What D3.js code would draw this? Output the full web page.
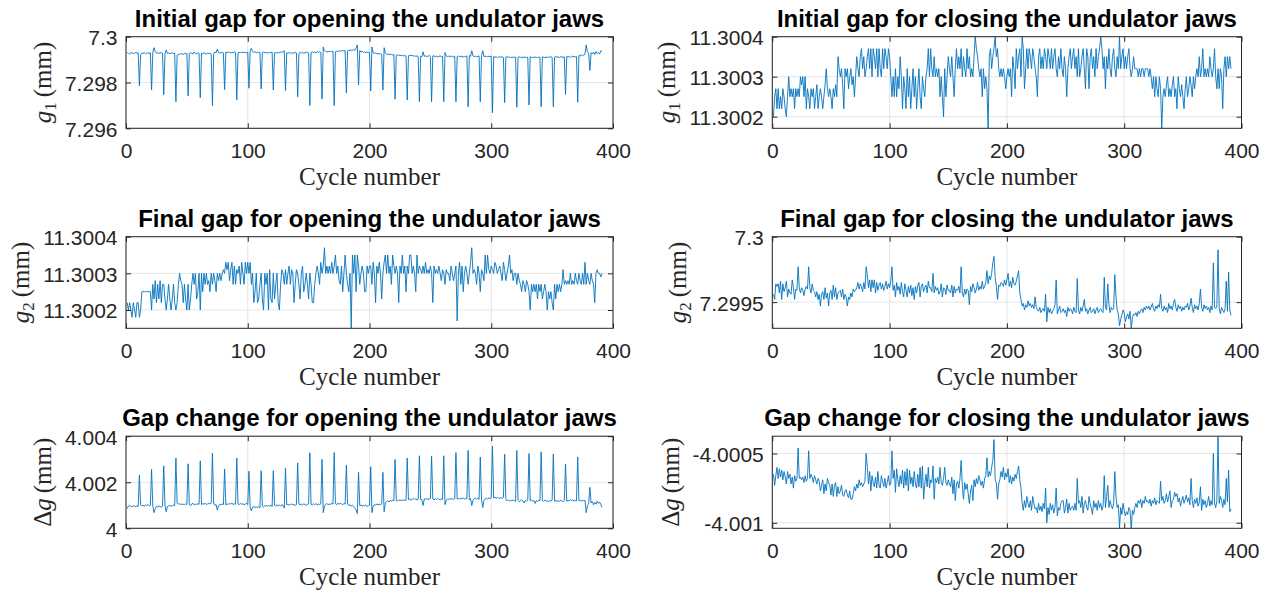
<!DOCTYPE html>
<html>
<head>
<meta charset="utf-8">
<script src="https://cdn.jsdelivr.net/npm/d3@7"></script>
<style>
  html, body { margin: 0; padding: 0; background: #fff; }
  svg { display: block; }
</style>
</head>
<body>
<script>
// Undulator jaw gap measurements per cycle (cycle 1 .. 391).
// Each series is stored as a deviation in micrometres from a reference gap in mm.

const xTicks = [0, 100, 200, 300, 400];
const xTickLabels = ["0", "100", "200", "300", "400"];

// Initial gap g1 when opening (reference 7.299 mm)
const g1OpenRef = 7.299;
const g1OpenUm = [
  .31,.27,.24,.29,.30,.26,.29,.31,.28,.30,
  -1.14,.22,.28,.27,.30,.25,.28,.29,.27,.30,
  -1.33,.30,.52,.36,.28,.30,.27,.29,.31,.28,
  -1.53,.25,.42,.27,.29,.26,.28,.30,.27,.29,
  -1.84,.20,.24,.22,.26,.25,.23,.27,.25,.28,
  -1.58,.26,.30,.28,.24,.33,.27,.26,.29,.27,
  -1.66,.28,.25,.30,.27,.24,.28,.26,.29,.23,
  -2.01,.27,.33,.30,.46,.31,.28,.30,.32,.29,
  -1.31,.32,.30,.33,.31,.29,.32,.30,.34,.31,
  -1.76,.30,.32,.31,.33,.30,.32,.31,.29,.33,
  -1.25,.38,.49,.35,.32,.34,.30,.33,.31,.32,
  -1.28,.30,.33,.31,.29,.32,.28,.31,.30,.33,
  -1.33,.29,.31,.28,.32,.30,.33,.31,.35,.39,
  -1.36,.30,.27,.31,.29,.26,.30,.28,.32,.29,
  -1.62,.27,.31,.29,.32,.28,.30,.33,.31,.29,
  -2.01,.30,.34,.31,.33,.30,.35,.32,.34,.31,
  -1.72,.55,.40,.35,.33,.36,.34,.37,.35,.36,
  -2.01,.34,.37,.36,.39,.35,.38,.40,.37,.39,
  -1.46,.38,.41,.39,.42,.40,.44,.41,.50,.64,
  -1.10,.40,.33,.36,.31,.34,.30,.33,.31,.32,
  -1.37,.55,.30,.27,.29,.25,.27,.24,.26,.23,
  -1.33,.52,.28,.24,.22,.25,.21,.23,.20,.22,
  -1.73,.19,.21,.18,.20,.17,.19,.16,.18,.15,
  -1.76,.17,.19,.18,.18,.15,.17,.14,.16,.13,
  -1.84,.15,.12,.34,.14,.17,.13,.15,.18,.14,
  -1.84,.16,.16,.13,.15,.12,.14,.16,.13,.15,
  -1.84,.31,.17,.13,.15,.12,.16,.14,.11,.15,
  -1.84,.13,.16,.12,.14,.15,.11,.14,.13,.16,
  -2.06,.18,.14,.39,.16,.13,.15,.12,.14,.16,
  -1.84,.17,.39,.13,.15,.14,.12,.15,.13,.14,
  -2.32,.14,.10,.12,.09,.11,.13,.10,.12,.09,
  -1.88,.12,.10,.13,.09,.11,.08,.12,.10,.11,
  -2.08,.10,.12,.09,.11,.08,.12,.10,.09,.11,
  -1.98,.13,.09,.11,.08,.12,.10,.09,.11,.10,
  -2.06,.12,.10,.08,.11,.09,.12,.10,.13,.09,
  -2.06,.11,.14,.10,.12,.09,.13,.11,.10,.12,
  -1.52,.14,.11,.13,.10,.15,.12,.14,.11,.13,
  -1.86,.18,.15,.22,.17,.20,.24,.64,.35,.28,
  -.47,.30,.25,.33,.22,.35,.27,.31,.24,.38,
  .39
];
const g1OpenTicks = [7.296, 7.298, 7.3];
const g1OpenTickLabels = ["7.296", "7.298", "7.3"];

// Initial gap g1 when closing (reference 11.3 mm)
const g1CloseRef = 11.3;
const g1CloseUm = [
  .20,.25,.27,.22,.27,.22,.25,.22,.27,.25,
  .22,.20,.25,.30,.25,.27,.25,.27,.22,.27,
  .25,.27,.25,.30,.28,.30,.25,.30,.22,.27,
  .25,.22,.27,.25,.27,.22,.25,.28,.22,.25,
  .27,.25,.22,.25,.28,.32,.27,.25,.27,.25,
  .22,.27,.25,.28,.25,.35,.32,.30,.32,.28,
  .22,.32,.30,.32,.27,.30,.32,.28,.30,.25,
  .30,.35,.32,.30,.35,.37,.32,.35,.30,.32,
  .35,.37,.32,.37,.30,.37,.35,.32,.37,.30,
  .37,.32,.30,.37,.32,.37,.35,.32,.37,.35,
  .30,.25,.30,.25,.32,.25,.30,.27,.35,.30,
  .22,.30,.27,.22,.32,.25,.30,.22,.27,.32,
  .25,.30,.22,.27,.32,.25,.22,.30,.27,.25,
  .30,.32,.37,.30,.37,.32,.30,.35,.30,.32,
  .30,.32,.25,.30,.25,.20,.32,.25,.30,.35,
  .32,.30,.35,.30,.25,.32,.37,.32,.35,.32,
  .37,.30,.35,.32,.30,.37,.32,.35,.30,.32,
  .30,.35,.40,.37,.35,.32,.30,.32,.25,.32,
  .27,.30,.27,.17,.35,.37,.32,.35,.37,.40,
  .35,.37,.32,.30,.32,.30,.32,.30,.27,.30,
  .32,.30,.32,.25,.35,.32,.27,.37,.32,.35,
  .37,.30,.40,.37,.27,.32,.37,.32,.37,.35,
  .32,.37,.35,.32,.30,.25,.35,.37,.32,.35,
  .32,.37,.35,.32,.37,.35,.32,.37,.32,.35,
  .37,.32,.30,.35,.32,.37,.32,.30,.35,.32,
  .25,.32,.35,.37,.32,.35,.37,.32,.35,.30,
  .37,.30,.32,.35,.37,.32,.27,.37,.35,.27,
  .35,.37,.32,.35,.30,.37,.32,.35,.37,.40,
  .37,.32,.35,.27,.35,.32,.37,.32,.30,.35,
  .37,.32,.30,.35,.32,.40,.32,.35,.37,.32,
  .35,.32,.35,.37,.32,.30,.32,.35,.32,.32,
  .32,.30,.32,.30,.32,.32,.30,.32,.32,.32,
  .30,.32,.30,.27,.30,.25,.30,.27,.25,.30,
  .27,.17,.25,.27,.25,.28,.30,.25,.27,.25,
  .28,.30,.25,.27,.22,.30,.27,.25,.28,.25,
  .22,.27,.30,.25,.27,.30,.28,.25,.30,.27,
  .30,.32,.30,.35,.30,.32,.37,.30,.32,.30,
  .32,.30,.35,.32,.30,.32,.37,.30,.27,.32,
  .27,.32,.30,.22,.32,.35,.30,.35,.32,.35,
  .32
];
const g1CloseTicks = [11.3002, 11.3003, 11.3004];
const g1CloseTickLabels = ["11.3002", "11.3003", "11.3004"];

// Final gap g2 when opening (reference 11.3 mm)
const g2OpenRef = 11.3;
const g2OpenUm = [
  .22,.20,.22,.20,.18,.22,.20,.18,.22,.22,
  .18,.20,.25,.25,.25,.25,.25,.25,.25,.25,
  .20,.27,.23,.28,.22,.27,.23,.28,.22,.27,
  .27,.23,.20,.23,.27,.23,.20,.23,.27,.22,
  .20,.22,.27,.30,.28,.27,.22,.27,.23,.20,
  .27,.20,.23,.27,.30,.27,.30,.23,.25,.30,
  .20,.30,.25,.30,.27,.30,.27,.28,.25,.30,
  .27,.30,.28,.25,.30,.28,.30,.28,.30,.31,
  .30,.33,.31,.33,.28,.31,.33,.27,.32,.27,
  .31,.30,.32,.27,.33,.30,.27,.33,.30,.33,
  .30,.33,.27,.30,.22,.25,.30,.22,.23,.27,
  .30,.23,.20,.30,.27,.30,.20,.31,.23,.22,
  .30,.23,.27,.30,.22,.20,.27,.31,.30,.27,
  .31,.27,.30,.32,.27,.31,.30,.22,.27,.31,
  .30,.27,.23,.30,.32,.25,.27,.30,.27,.23,
  .30,.27,.22,.22,.27,.30,.32,.30,.27,.33,
  .30,.32,.37,.30,.32,.30,.32,.30,.33,.30,
  .32,.35,.30,.32,.28,.27,.32,.25,.30,.35,
  .30,.27,.25,.30,.15,.35,.30,.35,.25,.35,
  .32,.27,.30,.32,.30,.25,.25,.32,.30,.32,
  .32,.27,.33,.30,.22,.32,.30,.33,.30,.23,
  .30,.33,.35,.30,.35,.30,.32,.27,.35,.32,
  .30,.32,.30,.22,.32,.30,.35,.30,.32,.25,
  .32,.30,.35,.35,.30,.32,.30,.25,.35,.30,
  .32,.31,.30,.32,.30,.33,.30,.31,.30,.32,
  .30,.22,.32,.30,.31,.30,.32,.30,.28,.31,
  .30,.27,.31,.30,.30,.28,.32,.30,.28,.30,
  .32,.17,.30,.33,.27,.32,.25,.30,.32,.30,
  .27,.30,.33,.37,.30,.31,.30,.27,.32,.30,
  .25,.31,.30,.28,.35,.30,.35,.31,.30,.32,
  .31,.30,.33,.32,.30,.31,.32,.30,.28,.33,
  .31,.28,.30,.32,.35,.30,.31,.28,.30,.30,
  .27,.30,.28,.27,.25,.28,.27,.25,.28,.27,
  .25,.20,.27,.25,.27,.25,.27,.23,.27,.25,
  .27,.23,.25,.27,.25,.20,.25,.23,.25,.22,
  .20,.27,.23,.27,.25,.27,.25,.27,.31,.27,
  .28,.27,.28,.27,.30,.27,.28,.27,.30,.28,
  .27,.30,.28,.27,.30,.27,.33,.27,.30,.28,
  .27,.30,.28,.27,.22,.30,.31,.30,.30,.29,
  .30
];
const g2OpenTicks = [11.3002, 11.3003, 11.3004];
const g2OpenTickLabels = ["11.3002", "11.3003", "11.3004"];

// Final gap g2 when closing (reference 7.299 mm)
const g2CloseRef = 7.299;
const g2CloseUm = [
  .56,.52,.64,.62,.64,.57,.66,.52,.64,.58,
  .61,.66,.54,.60,.57,.56,.67,.61,.52,.60,
  .59,.77,.61,.57,.61,.59,.55,.60,.62,.60,
  .77,.61,.57,.64,.59,.58,.54,.58,.52,.56,
  .47,.56,.58,.52,.61,.53,.57,.47,.57,.59,
  .52,.63,.54,.61,.52,.57,.58,.59,.54,.60,
  .52,.56,.54,.47,.54,.52,.57,.54,.60,.58,
  .59,.61,.65,.60,.64,.62,.58,.65,.60,.77,
  .71,.61,.67,.58,.67,.61,.67,.57,.65,.59,
  .63,.65,.60,.64,.59,.62,.66,.60,.64,.61,
  .66,.77,.59,.63,.54,.65,.59,.62,.56,.65,
  .58,.54,.64,.59,.54,.62,.57,.63,.55,.61,
  .52,.62,.57,.63,.65,.54,.62,.64,.58,.61,
  .63,.57,.66,.61,.61,.58,.72,.57,.62,.59,
  .61,.56,.58,.64,.54,.61,.60,.56,.63,.59,
  .59,.57,.63,.54,.62,.57,.60,.59,.62,.57,
  .77,.57,.54,.60,.56,.60,.59,.48,.62,.58,
  .64,.61,.57,.60,.65,.59,.62,.60,.66,.60,
  .62,.65,.74,.64,.70,.67,.72,.80,.85,.69,
  .62,.52,.63,.62,.65,.64,.62,.67,.63,.67,
  .72,.62,.66,.61,.69,.64,.63,.66,.70,.74,
  .57,.52,.47,.49,.44,.48,.46,.51,.47,.49,
  .46,.48,.45,.54,.46,.44,.43,.46,.42,.44,
  .45,.43,.56,.35,.46,.42,.45,.41,.43,.45,
  .48,.67,.41,.44,.47,.42,.43,.45,.42,.44,
  .39,.46,.43,.45,.44,.41,.46,.43,.42,.68,
  .44,.41,.46,.43,.47,.52,.43,.45,.41,.44,
  .46,.42,.43,.45,.41,.44,.46,.42,.44,.45,
  .43,.42,.69,.46,.44,.64,.48,.42,.46,.44,
  .45,.71,.54,.44,.41,.32,.37,.40,.44,.42,
  .35,.39,.41,.37,.43,.30,.38,.41,.40,.42,
  .39,.43,.41,.44,.45,.42,.46,.44,.47,.45,
  .47,.44,.46,.49,.45,.43,.47,.45,.48,.46,
  .56,.45,.43,.47,.44,.46,.42,.49,.45,.47,
  .44,.49,.52,.46,.43,.48,.45,.47,.43,.46,
  .44,.47,.46,.49,.44,.47,.53,.46,.42,.48,
  .45,.47,.44,.49,.60,.46,.43,.48,.45,.47,
  .44,.46,.42,.47,.44,.80,.46,.45,.47,.90,
  .45,.41,.46,.44,.42,.45,.66,.43,.73,.44,
  .40
];
const g2CloseTicks = [7.2995, 7.3];
const g2CloseTickLabels = ["7.2995", "7.3"];

// Gap change when opening (reference 4.0 mm)
const dgOpenRef = 4.0;
const dgOpenUm = [
  .86,.97,1.00,.95,.93,.99,.96,.94,.98,.95,
  2.31,1.02,.98,1.00,.96,1.01,.99,1.03,.97,1.00,
  2.56,.98,.68,.85,.96,.93,.97,.95,.92,.96,
  2.71,1.00,.72,.94,.97,1.00,.96,.99,1.01,.98,
  3.05,1.08,1.05,1.07,1.03,1.06,1.04,1.02,1.06,1.03,
  2.80,1.04,.98,1.06,1.09,1.01,1.05,1.03,1.07,1.04,
  2.93,1.03,1.07,1.05,1.08,1.04,1.06,1.09,1.05,1.10,
  3.26,1.05,1.00,1.03,.79,.98,1.04,1.01,1.06,1.03,
  2.57,1.02,1.06,1.04,1.08,1.05,1.10,1.03,1.07,1.04,
  3.05,1.06,1.03,1.08,1.04,1.07,1.02,1.05,1.09,1.03,
  2.48,.90,.76,.92,.95,.90,.93,.91,.94,.89,
  2.50,.96,.92,.97,1.00,.95,.99,.96,1.01,.94,
  2.50,1.00,.97,1.02,.98,1.01,.96,1.03,.99,.88,
  2.61,1.02,1.05,1.00,1.03,1.06,1.01,1.04,.99,1.03,
  2.84,1.06,1.02,1.05,1.01,1.07,1.03,1.00,1.04,1.06,
  3.28,1.05,1.01,1.06,1.03,1.07,1.02,1.05,1.03,1.06,
  2.99,.68,.95,1.04,1.08,1.02,1.06,1.03,1.09,1.05,
  3.29,1.07,1.03,1.09,1.04,1.10,1.06,1.02,1.08,1.05,
  2.74,1.04,.99,1.03,.96,1.00,.95,.86,.81,.64,
  2.43,.98,1.01,.96,1.00,.97,1.02,.95,.99,1.01,
  2.67,.68,.97,1.03,1.00,1.06,1.02,1.05,1.01,1.07,
  2.43,.72,1.10,1.16,1.20,1.14,1.22,1.17,1.23,1.19,
  2.99,1.21,1.18,1.24,1.20,1.23,1.19,1.25,1.21,1.22,
  3.05,1.24,1.27,1.22,1.26,1.30,1.25,1.28,1.23,1.27,
  3.15,1.25,1.24,.99,1.28,1.26,1.30,1.24,1.27,1.29,
  3.13,1.27,1.24,1.29,1.25,1.30,1.26,1.23,1.28,1.25,
  3.15,1.03,1.22,1.27,1.24,1.30,1.26,1.29,1.25,1.28,
  3.29,1.27,1.30,1.26,1.31,1.28,1.32,1.27,1.30,1.28,
  3.38,1.24,1.29,.99,1.22,1.28,1.31,1.27,1.30,1.26,
  3.09,1.25,.90,1.20,1.28,1.31,1.27,1.32,1.29,1.33,
  3.57,1.31,1.35,1.30,1.34,1.32,1.29,1.33,1.30,1.34,
  3.22,1.25,1.20,1.23,1.18,1.22,1.19,1.24,1.20,1.17,
  3.38,1.22,1.16,1.20,1.23,1.18,1.10,1.21,1.17,1.22,
  3.25,1.19,1.23,1.18,1.21,1.08,1.20,1.16,1.22,1.19,
  3.32,1.21,1.17,1.22,1.18,1.20,1.15,1.21,1.18,1.22,
  3.23,1.18,1.21,1.16,1.20,1.17,1.22,1.19,1.15,1.21,
  2.79,1.17,1.22,1.19,1.24,1.20,1.23,1.18,1.21,1.19,
  3.10,1.20,1.22,1.17,1.23,1.19,1.21,.68,.98,1.08,
  1.78,1.10,1.16,1.02,1.12,1.05,1.18,1.08,1.14,1.03,
  .91
];
const dgOpenTicks = [4, 4.002, 4.004];
const dgOpenTickLabels = ["4", "4.002", "4.004"];

// Gap change when closing (reference -4.0 mm)
const dgCloseRef = -4.0;
const dgCloseUm = [
  -.65,-.73,-.66,-.60,-.68,-.61,-.67,-.62,-.69,-.63,
  -.67,-.72,-.63,-.68,-.65,-.72,-.67,-.75,-.66,-.70,
  -.68,-.46,-.68,-.67,-.69,-.67,-.71,-.66,-.70,-.68,
  -.48,-.68,-.65,-.67,-.71,-.66,-.69,-.72,-.68,-.70,
  -.77,-.73,-.69,-.79,-.72,-.77,-.68,-.71,-.73,-.80,
  -.72,-.81,-.73,-.71,-.81,-.74,-.79,-.77,-.73,-.80,
  -.81,-.77,-.76,-.80,-.82,-.77,-.83,-.83,-.79,-.74,
  -.77,-.72,-.75,-.69,-.73,-.71,-.74,-.72,-.70,-.50,
  -.60,-.72,-.63,-.77,-.66,-.71,-.74,-.67,-.75,-.63,
  -.73,-.75,-.66,-.70,-.74,-.68,-.75,-.71,-.66,-.73,
  -.72,-.48,-.68,-.62,-.78,-.61,-.69,-.74,-.66,-.72,
  -.62,-.75,-.63,-.73,-.61,-.77,-.62,-.72,-.67,-.74,
  -.63,-.72,-.75,-.65,-.74,-.60,-.75,-.59,-.83,-.72,
  -.65,-.74,-.60,-.75,-.69,-.71,-.59,-.83,-.68,-.71,
  -.67,-.72,-.60,-.71,-.73,-.68,-.60,-.71,-.73,-.69,
  -.72,-.74,-.67,-.79,-.69,-.84,-.72,-.70,-.75,-.68,
  -.55,-.73,-.83,-.71,-.76,-.72,-.79,-.86,-.77,-.73,
  -.84,-.69,-.74,-.68,-.72,-.66,-.69,-.73,-.70,-.75,
  -.68,-.66,-.53,-.67,-.63,-.66,-.60,-.55,-.40,-.69,
  -.71,-.83,-.72,-.69,-.63,-.67,-.60,-.69,-.64,-.67,
  -.61,-.71,-.66,-.72,-.67,-.70,-.65,-.68,-.63,-.59,
  -.69,-.75,-.86,-.91,-.84,-.89,-.81,-.86,-.89,-.84,
  -.91,-.81,-.86,-.90,-.89,-.93,-.86,-.91,-.88,-.92,
  -.86,-.90,-.75,-1.00,-.89,-.94,-.86,-.91,-.87,-.93,
  -.89,-.75,-.95,-.89,-.91,-.86,-.84,-.84,-.93,-.89,
  -.83,-.93,-.86,-.91,-.89,-.88,-.91,-.86,-.91,-.68,
  -.86,-.84,-.89,-.81,-.93,-.86,-.84,-.89,-.91,-.81,
  -.86,-.90,-.94,-.84,-.89,-.86,-.91,-.84,-.89,-.86,
  -.91,-.88,-.66,-.89,-.81,-.73,-.89,-.84,-.88,-.90,
  -.86,-.63,-.81,-.89,-.87,-1.04,-.89,-.94,-.86,-.91,
  -.95,-.92,-.94,-.89,-.91,-1.05,-.91,-.94,-.89,-.86,
  -.89,-.84,-.86,-.83,-.89,-.84,-.86,-.81,-.85,-.84,
  -.86,-.83,-.88,-.84,-.86,-.82,-.87,-.84,-.85,-.86,
  -.70,-.84,-.81,-.86,-.84,-.79,-.85,-.81,-.77,-.89,
  -.84,-.83,-.78,-.81,-.79,-.85,-.82,-.88,-.84,-.81,
  -.86,-.83,-.80,-.85,-.82,-.87,-.68,-.84,-.89,-.83,
  -.86,-.82,-.88,-.85,-.74,-.91,-.83,-.87,-.84,-.89,
  -.86,-.81,-.88,-.84,-.87,-.50,-.86,-.89,-.84,-.38,
  -.86,-.81,-.84,-.89,-.83,-.87,-.68,-.85,-.62,-.92,
  -.90
];
const dgCloseTicks = [-4.001, -4.0005];
const dgCloseTickLabels = ["-4.001", "-4.0005"];

const titles = [
  "Initial gap for opening the undulator jaws",
  "Initial gap for closing the undulator jaws",
  "Final gap for opening the undulator jaws",
  "Final gap for closing the undulator jaws",
  "Gap change for opening the undulator jaws",
  "Gap change for closing the undulator jaws"
];

// Panel definitions (grid position, data, limits, label)
const panels = [
  { row: 0, col: 0, title: titles[0], ref: g1OpenRef,  um: g1OpenUm,  domain: [7.296, 7.3],          ticks: g1OpenTicks,  labels: g1OpenTickLabels,  sym: "g", sub: "1" },
  { row: 0, col: 1, title: titles[1], ref: g1CloseRef, um: g1CloseUm, domain: [11.300171, 11.3004],  ticks: g1CloseTicks, labels: g1CloseTickLabels, sym: "g", sub: "1" },
  { row: 1, col: 0, title: titles[2], ref: g2OpenRef,  um: g2OpenUm,  domain: [11.30015, 11.3004],   ticks: g2OpenTicks,  labels: g2OpenTickLabels,  sym: "g", sub: "2" },
  { row: 1, col: 1, title: titles[3], ref: g2CloseRef, um: g2CloseUm, domain: [7.2993, 7.3],         ticks: g2CloseTicks, labels: g2CloseTickLabels, sym: "g", sub: "2" },
  { row: 2, col: 0, title: titles[4], ref: dgOpenRef,  um: dgOpenUm,  domain: [4, 4.004],            ticks: dgOpenTicks,  labels: dgOpenTickLabels,  sym: "g", delta: true },
  { row: 2, col: 1, title: titles[5], ref: dgCloseRef, um: dgCloseUm, domain: [-4.00104, -4.000375], ticks: dgCloseTicks, labels: dgCloseTickLabels, sym: "g", delta: true }
];

const W = 1270, H = 594;
const cols = [[126, 613], [772.3, 1241.5]];
const rows = [[36.7, 128.3], [236.7, 328.3], [436.2, 528.3]];
const lineBlue = "#0072BD";
const ink = "#262626";
const gridGrey = "#dedede";
const sans = "'Liberation Sans', Arial, Helvetica, sans-serif";
const serif = "'Liberation Serif', 'Times New Roman', serif";
const tickFont = 21;

const svg = d3.select("body").append("svg")
  .attr("width", W).attr("height", H)
  .style("background", "#fff");

const defs = svg.append("defs");

panels.forEach((p, i) => {
  const [x0, x1] = cols[p.col];
  const [y0, y1] = rows[p.row];
  const x = d3.scaleLinear().domain([0, 400]).range([x0, x1]);
  const y = d3.scaleLinear().domain(p.domain).range([y1, y0]);
  const g = svg.append("g");

  // grid
  g.append("g").selectAll("line").data(xTicks).join("line")
    .attr("x1", d => x(d)).attr("x2", d => x(d))
    .attr("y1", y0).attr("y2", y1)
    .attr("stroke", gridGrey).attr("stroke-width", 0.8);
  g.append("g").selectAll("line").data(p.ticks).join("line")
    .attr("x1", x0).attr("x2", x1)
    .attr("y1", d => y(d)).attr("y2", d => y(d))
    .attr("stroke", gridGrey).attr("stroke-width", 0.8);

  // data line
  const clipId = "plotclip" + i;
  defs.append("clipPath").attr("id", clipId)
    .append("rect").attr("x", x0).attr("y", y0).attr("width", x1 - x0).attr("height", y1 - y0);
  const series = p.um.map((v, k) => ({ cycle: k + 1, value: p.ref + v / 1000 }));
  g.append("path").datum(series)
    .attr("clip-path", `url(#${clipId})`)
    .attr("fill", "none")
    .attr("stroke", lineBlue)
    .attr("stroke-width", 0.9)
    .attr("stroke-linejoin", "round")
    .attr("d", d3.line().x(d => x(d.cycle)).y(d => y(d.value)));

  const styleAxis = sel => {
    sel.select(".domain").remove();
    sel.attr("color", ink).attr("font-size", tickFont).attr("font-family", sans);
  };

  // bottom & top axes
  g.append("g").attr("transform", `translate(0,${y1})`)
    .call(d3.axisBottom(x).tickValues(xTicks).tickFormat((d, k) => xTickLabels[k]).tickSize(-5).tickPadding(14.5))
    .call(styleAxis);
  g.append("g").attr("transform", `translate(0,${y0})`)
    .call(d3.axisTop(x).tickValues(xTicks).tickFormat(() => "").tickSize(-5))
    .call(styleAxis);

  // left & right axes
  const leftAxis = g.append("g").attr("transform", `translate(${x0},0)`)
    .call(d3.axisLeft(y).tickValues(p.ticks).tickFormat((d, k) => p.labels[k]).tickSize(-5).tickPadding(8.5))
    .call(styleAxis);
  leftAxis.selectAll("text").attr("dy", "0.38em");
  g.append("g").attr("transform", `translate(${x1},0)`)
    .call(d3.axisRight(y).tickValues(p.ticks).tickFormat(() => "").tickSize(-5))
    .call(styleAxis);

  // frame
  g.append("rect")
    .attr("x", x0).attr("y", y0).attr("width", x1 - x0).attr("height", y1 - y0)
    .attr("fill", "none").attr("stroke", ink).attr("stroke-width", 1);

  // title
  g.append("text")
    .attr("x", (x0 + x1) / 2).attr("y", y0 - 10)
    .attr("text-anchor", "middle")
    .attr("font-family", sans).attr("font-weight", "bold").attr("font-size", 24)
    .attr("fill", "#000")
    .text(p.title);

  // x label
  g.append("text")
    .attr("x", (x0 + x1) / 2).attr("y", y1 + 57)
    .attr("text-anchor", "middle")
    .attr("font-family", serif).attr("font-size", 25)
    .attr("fill", ink)
    .text("Cycle number");

  // y label, placed left of the tick labels
  let tickLeft = x0 - 60;
  leftAxis.selectAll("text").each(function () {
    const b = this.getBBox();
    tickLeft = Math.min(tickLeft, x0 + b.x);
  });
  const yl = g.append("text")
    .attr("transform", `translate(${tickLeft - 14},${(y0 + y1) / 2}) rotate(-90)`)
    .attr("text-anchor", "middle")
    .attr("font-family", serif).attr("font-size", 25)
    .attr("fill", ink);
  if (p.delta) yl.append("tspan").text("\u0394");
  yl.append("tspan").attr("font-style", "italic").text(p.sym);
  if (p.sub) {
    yl.append("tspan").attr("font-size", 17).attr("dy", 5).text(p.sub);
    yl.append("tspan").attr("dy", -5).text("\u2009(mm)");
  } else {
    yl.append("tspan").text("\u2009(mm)");
  }
});
</script>
</body>
</html>
